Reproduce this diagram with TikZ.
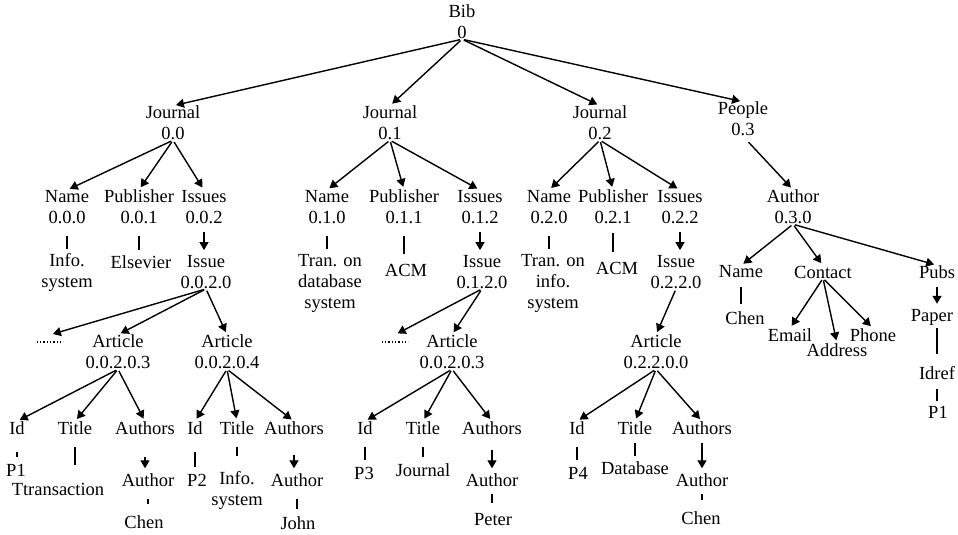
\documentclass[tikz,border=0pt]{standalone}
\usepackage{fontspec}
\setmainfont{Liberation Serif}
\usetikzlibrary{arrows.meta}

\begin{document}
\begin{tikzpicture}[
    x=1pt, y=-1pt,
    txt/.style={align=center, inner sep=0pt, font=\fontsize{18.5}{21}\selectfont},
    arrow/.style={-{Triangle[length=8pt,width=9pt]}, line width=1.4pt, shorten <=2pt, shorten >=3pt},
    down/.style={arrow, shorten <=8pt, shorten >=5pt},
    link/.style={line width=2pt, shorten <=12pt, shorten >=7pt},
    dots/.style={minimum width=26pt, minimum height=14pt, inner sep=0pt}
]
    \useasboundingbox (0,0) rectangle (958,535);

    % Root
    \node[txt] (bib) at (462,22) {Bib\\0};

    % Journals and people
    \node[txt] (j_0) at (173,123) {Journal\\0.0};
    \node[txt] (j_1) at (390,123) {Journal\\0.1};
    \node[txt] (j_2) at (600,123) {Journal\\0.2};
    \node[txt] (people) at (743,119) {People\\0.3};

    % Journal 0.0
    \node[txt] (name_00) at (67,207) {Name\\0.0.0};
    \node[txt] (pub_00) at (139,207) {Publisher\\0.0.1};
    \node[txt] (iss_00) at (204,207) {Issues\\0.0.2};
    \node[txt] (nameval_00) at (67,272) {Info.\\system};
    \node[txt] (pubval_00) at (141,262) {Elsevier};
    \node[txt] (issue_00) at (206,272) {Issue\\0.0.2.0};

    \node[dots] (dots_00) at (50,342) {};
    \node[txt] (art_003) at (118,352) {Article\\0.0.2.0.3};
    \node[txt] (art_004) at (227,352) {Article\\0.0.2.0.4};

    % Article 0.0.2.0.3
    \node[txt] (id_003) at (17,428) {Id};
    \node[txt] (title_003) at (75,428) {Title};
    \node[txt] (authors_003) at (145,428) {Authors};
    \node[txt] (idval_003) at (16,470) {P1};
    \node[txt] (titleval_003) at (58,489) {Ttransaction};
    \node[txt] (author_003) at (148,480) {Author};
    \node[txt] (authval_003) at (144,522) {Chen};

    % Article 0.0.2.0.4
    \node[txt] (id_004) at (195,428) {Id};
    \node[txt] (title_004) at (237,428) {Title};
    \node[txt] (authors_004) at (294,428) {Authors};
    \node[txt] (idval_004) at (197,480) {P2};
    \node[txt] (titleval_004) at (237,490) {Info.\\system};
    \node[txt] (author_004) at (297,480) {Author};
    \node[txt] (authval_004) at (298,523) {John};

    % Journal 0.1
    \node[txt] (name_01) at (327,207) {Name\\0.1.0};
    \node[txt] (pub_01) at (404,207) {Publisher\\0.1.1};
    \node[txt] (iss_01) at (480,207) {Issues\\0.1.2};
    \node[txt] (nameval_01) at (330,283) {Tran. on\\database\\system};
    \node[txt] (pubval_01) at (406,270) {ACM};
    \node[txt] (issue_01) at (482,272) {Issue\\0.1.2.0};

    \node[dots] (dots_01) at (395,342) {};
    \node[txt] (art_013) at (452,352) {Article\\0.0.2.0.3};

    % Article under 0.1.2.0
    \node[txt] (id_013) at (365,428) {Id};
    \node[txt] (title_013) at (423,428) {Title};
    \node[txt] (authors_013) at (492,428) {Authors};
    \node[txt] (idval_013) at (364,473) {P3};
    \node[txt] (titleval_013) at (423,470) {Journal};
    \node[txt] (author_013) at (492,480) {Author};
    \node[txt] (authval_013) at (493,520) {Peter};

    % Journal 0.2
    \node[txt] (name_02) at (549,207) {Name\\0.2.0};
    \node[txt] (pub_02) at (613,207) {Publisher\\0.2.1};
    \node[txt] (iss_02) at (680,207) {Issues\\0.2.2};
    \node[txt] (nameval_02) at (553,283) {Tran. on\\info.\\system};
    \node[txt] (pubval_02) at (617,268) {ACM};
    \node[txt] (issue_02) at (676,272) {Issue\\0.2.2.0};

    \node[txt] (art_020) at (656,352) {Article\\0.2.2.0.0};

    % Article 0.2.2.0.0
    \node[txt] (id_020) at (577,428) {Id};
    \node[txt] (title_020) at (635,428) {Title};
    \node[txt] (authors_020) at (702,428) {Authors};
    \node[txt] (idval_020) at (578,473) {P4};
    \node[txt] (titleval_020) at (635,468) {Database};
    \node[txt] (author_020) at (702,480) {Author};
    \node[txt] (authval_020) at (701,518) {Chen};

    % People 0.3
    \node[txt] (author_30) at (793,207) {Author\\0.3.0};
    \node[txt] (name_30) at (741,272) {Name};
    \node[txt] (contact_30) at (823,272) {Contact};
    \node[txt] (pubs_30) at (937,272) {Pubs};
    \node[txt] (nameval_30) at (745,318) {Chen};
    \node[txt] (email_30) at (790,335) {Email};
    \node[txt] (address_30) at (837,350) {Address};
    \node[txt] (phone_30) at (873,335) {Phone};
    \node[txt] (paper_30) at (932,317) {Paper};
    \node[txt] (idref_30) at (937,373) {Idref};
    \node[txt] (idrefval_30) at (938,412) {P1};

    % Dotted siblings
    \draw[dotted, line width=1.3pt] (dots_00.west) -- (dots_00.east);
    \draw[dotted, line width=1.3pt] (dots_01.west) -- (dots_01.east);

    % Root edges
    \draw[arrow] (bib.south) -- (j_0.north);
    \draw[arrow] (bib.south) -- (j_1.north);
    \draw[arrow] (bib.south) -- (j_2.north);
    \draw[arrow] (bib.south) -- (people.north);

    % Journal 0.0 edges
    \draw[arrow] (j_0.south) -- (name_00.north);
    \draw[arrow] (j_0.south) -- (pub_00.north);
    \draw[arrow] (j_0.south) -- (iss_00.north);
    \draw[link, shorten >=4pt] (name_00.south) -- (name_00.south |- nameval_00.north);
    \draw[link, shorten >=5pt] (pub_00.south) -- (pub_00.south |- pubval_00.north);
    \draw[down] (iss_00.south) -- (iss_00.south |- issue_00.north);
    \draw[arrow] (issue_00.south) -- (dots_00.north);
    \draw[arrow] (issue_00.south) -- (art_003.north);
    \draw[arrow] (issue_00.south) -- (art_004.north);

    \draw[arrow] (art_003.south) -- (id_003.north);
    \draw[arrow] (art_003.south) -- (title_003.north);
    \draw[arrow] (art_003.south) -- (authors_003.north);
    \draw[link, shorten <=17pt] (id_003.south) -- (id_003.south |- idval_003.north);
    \draw[link, shorten >=18pt] (title_003.south) -- (title_003.south |- titleval_003.north);
    \draw[down, shorten <=22pt] (authors_003.south) -- (authors_003.south |- author_003.north);
    \draw[link, shorten >=11pt] (author_003.south) -- (author_003.south |- authval_003.north);

    \draw[arrow] (art_004.south) -- (id_004.north);
    \draw[arrow] (art_004.south) -- (title_004.north);
    \draw[arrow] (art_004.south) -- (authors_004.north);
    \draw[link, shorten <=17pt] (id_004.south) -- (id_004.south |- idval_004.north);
    \draw[link, shorten >=15pt] (title_004.south) -- (title_004.south |- titleval_004.north);
    \draw[down, shorten <=20pt] (authors_004.south) -- (authors_004.south |- author_004.north);
    \draw[link] (author_004.south) -- (author_004.south |- authval_004.north);

    % Journal 0.1 edges
    \draw[arrow] (j_1.south) -- (name_01.north);
    \draw[arrow] (j_1.south) -- (pub_01.north);
    \draw[arrow] (j_1.south) -- (iss_01.north);
    \draw[link, shorten >=5pt] (name_01.south) -- (name_01.south |- nameval_01.north);
    \draw[link, shorten >=10pt] (pub_01.south) -- (pub_01.south |- pubval_01.north);
    \draw[down] (iss_01.south) -- (iss_01.south |- issue_01.north);
    \draw[arrow] (issue_01.south) -- (dots_01.north);
    \draw[arrow] (issue_01.south) -- (art_013.north);

    \draw[arrow] (art_013.south) -- (id_013.north);
    \draw[arrow] (art_013.south) -- (title_013.north);
    \draw[arrow] (art_013.south) -- (authors_013.north);
    \draw[link] (id_013.south) -- (id_013.south |- idval_013.north);
    \draw[link, shorten >=6pt] (title_013.south) -- (title_013.south |- titleval_013.north);
    \draw[down, shorten <=15pt] (authors_013.south) -- (authors_013.south |- author_013.north);
    \draw[link, shorten <=7pt, shorten >=11pt] (author_013.south) -- (author_013.south |- authval_013.north);

    % Journal 0.2 edges
    \draw[arrow] (j_2.south) -- (name_02.north);
    \draw[arrow] (j_2.south) -- (pub_02.north);
    \draw[arrow] (j_2.south) -- (iss_02.north);
    \draw[link, shorten >=5pt] (name_02.south) -- (name_02.south |- nameval_02.north);
    \draw[link, shorten <=9pt, shorten >=10pt] (pub_02.south) -- (pub_02.south |- pubval_02.north);
    \draw[down] (iss_02.south) -- (iss_02.south |- issue_02.north);
    \draw[arrow] (issue_02.south) -- (art_020.north);

    \draw[arrow] (art_020.south) -- (id_020.north);
    \draw[arrow] (art_020.south) -- (title_020.north);
    \draw[arrow] (art_020.south) -- (authors_020.north);
    \draw[link] (id_020.south) -- (id_020.south |- idval_020.north);
    \draw[link, shorten <=8pt, shorten >=5pt] (title_020.south) -- (title_020.south |- titleval_020.north);
    \draw[down] (authors_020.south) -- (authors_020.south |- author_020.north);
    \draw[link, shorten <=7pt, shorten >=11pt] (author_020.south) -- (author_020.south |- authval_020.north);

    % People edges
    \draw[arrow, shorten <=8pt] (people.south) -- (author_30.north);
    \draw[arrow] (author_30.south) -- (name_30.north);
    \draw[arrow] (author_30.south) -- (contact_30.north);
    \draw[arrow] (author_30.south) -- (pubs_30.north);
    \draw[link, shorten <=9pt] (name_30.south) -- (name_30.south |- nameval_30.north);
    \draw[arrow] (contact_30.south) -- (email_30.north);
    \draw[arrow] (contact_30.south) -- (address_30.north);
    \draw[arrow] (contact_30.south) -- (phone_30.north);
    \draw[down] (pubs_30.south) -- (pubs_30.south |- paper_30.north);
    \draw[link, shorten <=3pt, shorten >=12pt] (paper_30.south -| idref_30.north) -- (idref_30.north);
    \draw[link, shorten <=9pt, shorten >=5pt] (idref_30.south) -- (idref_30.south |- idrefval_30.north);

\end{tikzpicture}
\end{document}
